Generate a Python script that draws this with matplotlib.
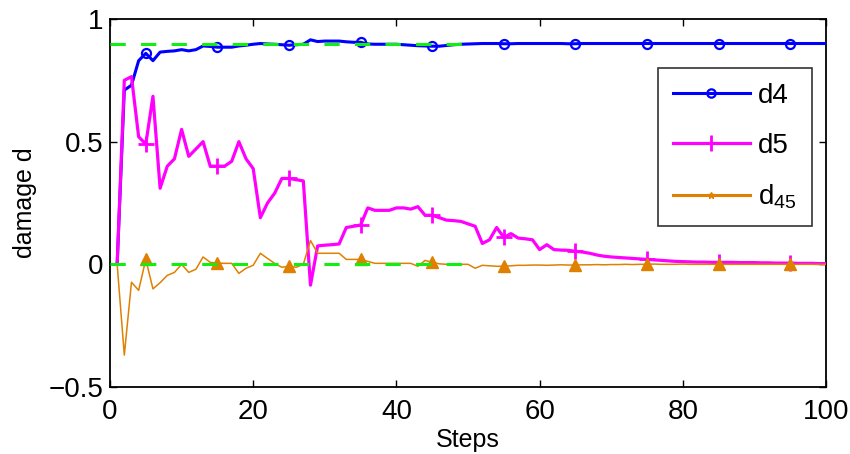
import numpy as np
import matplotlib
matplotlib.use("Agg")
import matplotlib.pyplot as plt
from matplotlib.lines import Line2D

plt.rcParams['font.family'] = ['Liberation Sans', 'DejaVu Sans']
plt.rcParams['mathtext.fontset'] = 'custom'
plt.rcParams['mathtext.rm'] = 'Liberation Sans'
plt.rcParams['mathtext.it'] = 'Liberation Sans'
plt.rcParams['mathtext.default'] = 'regular'

steps = list(range(1, 101))

d4 = [0.0, 0.71, 0.73, 0.83, 0.86, 0.83, 0.865, 0.868, 0.87, 0.875,
      0.87, 0.875, 0.89, 0.888, 0.885, 0.885, 0.885, 0.89, 0.893, 0.897,
      0.90, 0.898, 0.897, 0.895, 0.893, 0.895, 0.897, 0.915, 0.908, 0.91,
      0.91, 0.91, 0.907, 0.905, 0.905, 0.898, 0.897, 0.897, 0.897, 0.897,
      0.895, 0.893, 0.891, 0.89, 0.889, 0.889, 0.892, 0.895, 0.897, 0.898,
      0.899, 0.90, 0.90, 0.90, 0.899, 0.899, 0.90, 0.90, 0.90, 0.90,
      0.90, 0.90, 0.90, 0.899, 0.899, 0.90, 0.90, 0.90, 0.90, 0.90,
      0.90, 0.90, 0.90, 0.90, 0.90, 0.90, 0.90, 0.90, 0.90, 0.90,
      0.90, 0.90, 0.90, 0.90, 0.90, 0.90, 0.90, 0.90, 0.90, 0.90,
      0.90, 0.90, 0.90, 0.90, 0.90, 0.90, 0.90, 0.90, 0.90, 0.90]

d5 = [0.0, 0.75, 0.765, 0.52, 0.49, 0.685, 0.31, 0.40, 0.43, 0.55,
      0.44, 0.47, 0.50, 0.40, 0.40, 0.40, 0.42, 0.50, 0.43, 0.39,
      0.19, 0.25, 0.29, 0.35, 0.35, 0.345, 0.34, -0.085, 0.075, 0.078,
      0.08, 0.083, 0.15, 0.155, 0.16, 0.23, 0.22, 0.22, 0.22, 0.23,
      0.23, 0.225, 0.235, 0.20, 0.20, 0.19, 0.18, 0.178, 0.175, 0.165,
      0.155, 0.085, 0.10, 0.15, 0.11, 0.125, 0.107, 0.104, 0.10, 0.06,
      0.08, 0.06, 0.058, 0.057, 0.053, 0.05, 0.045, 0.038, 0.033, 0.03,
      0.028, 0.026, 0.024, 0.022, 0.02, 0.018, 0.016, 0.014, 0.012, 0.011,
      0.01, 0.009, 0.009, 0.008, 0.008, 0.008, 0.008, 0.007, 0.007, 0.007,
      0.006, 0.006, 0.005, 0.005, 0.005, 0.004, 0.004, 0.004, 0.003, 0.003]

d45 = [0.0, -0.37, -0.073, -0.106, 0.02, -0.10, -0.075, -0.045, -0.033, 0.0,
       -0.033, -0.02, 0.03, 0.008, 0.005, 0.004, 0.004, -0.037, -0.016, -0.004,
       0.045, 0.024, 0.004, -0.012, -0.008, -0.012, 0.0, 0.097, 0.045, 0.045,
       0.045, 0.045, 0.02, 0.02, 0.02, 0.012, 0.004, 0.004, 0.004, 0.004,
       0.004, 0.004, -0.008, 0.016, 0.008, 0.002, 0.0, 0.0, 0.0, 0.0,
       -0.016, -0.004, -0.006, -0.008, -0.008, -0.006, -0.004, -0.004, -0.003, -0.003,
       -0.004, -0.003, -0.002, -0.003, -0.003, -0.002, -0.002, -0.001, -0.002, -0.001,
       -0.001, 0.0, -0.001, 0.0, 0.0, 0.001, 0.0, 0.0, 0.0, 0.001,
       0.0, 0.0, 0.0, 0.0, 0.0, 0.0, 0.0, 0.0, 0.0, 0.0,
       0.0, 0.0, 0.0, 0.0, 0.0, 0.0, 0.0, 0.0, 0.0, 0.0]

ref_x = [0, 50]
ref_high = [0.9, 0.9]
ref_low = [0.0, 0.0]

xticks = [0, 20, 40, 60, 80, 100]
yticks = [-0.5, 0, 0.5, 1]
yticklabels = ['\u22120.5', '0', '0.5', '1']

blue = '#0000ff'
pink = '#ff00ff'
orange = '#e08000'
green = '#11ee11'

fig = plt.figure(figsize=(8.5, 4.54), dpi=100)
ax = fig.add_axes([0.1294, 0.1476, 0.8424, 0.8106])

ax.plot(steps, d4, color=blue, lw=2.2, marker='o', markersize=6.5, mew=1.6,
        markerfacecolor='none', markevery=(4, 10), zorder=3)
ax.plot(steps, d5, color=pink, lw=2.3, marker='+', markersize=11, mew=2,
        markevery=(4, 10), zorder=4)
ax.plot(steps, d45, color=orange, lw=1.1, marker='^', markersize=8,
        markevery=(4, 10), markerfacecolor=orange, markeredgecolor=orange, zorder=5)
ax.plot(ref_x, ref_high, color=green, lw=2.2, dashes=(5, 5), zorder=6)
ax.plot(ref_x, ref_low, color=green, lw=2.2, dashes=(5, 5), zorder=6)

ax.set_xlim(0, 100)
ax.set_ylim(-0.5, 1)
ax.set_xticks(xticks)
ax.set_yticks(yticks)
ax.set_yticklabels(yticklabels)
ax.tick_params(direction='in', length=5, width=1, labelsize=20,
               top=True, right=True)
ax.tick_params(axis='x', pad=9)
ax.tick_params(axis='y', pad=5)
for s in ax.spines.values():
    s.set_linewidth(1.3)

ax.set_xlabel('Steps', fontsize=18, labelpad=2)
ax.set_ylabel('damage d', fontsize=18, labelpad=8)

handles = [
    Line2D([], [], color=blue, lw=2.2, marker='o', markersize=6, mew=1.6,
           markerfacecolor='none'),
    Line2D([], [], color=pink, lw=2.3, marker='+', markersize=11, mew=2),
    Line2D([], [], color=orange, lw=2.2, marker='*', markersize=5),
]
leg = ax.legend(handles, ['d4', 'd5', 'd$_{45}$'], loc='upper right',
                bbox_to_anchor=(0.98, 0.867), fontsize=20, frameon=True,
                fancybox=False, edgecolor='black', handlelength=2.75,
                labelspacing=0.85, borderpad=0.55, handletextpad=0.3,
                borderaxespad=0)
leg.get_frame().set_linewidth(1.2)

fig.savefig('out.png', dpi=100)
